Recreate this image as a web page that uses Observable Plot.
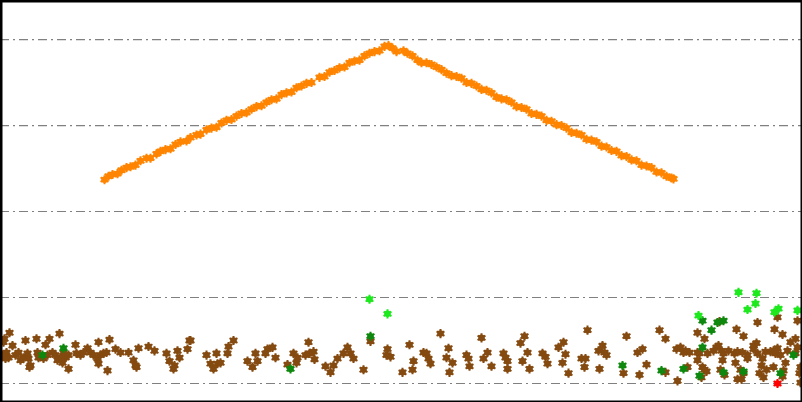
<!DOCTYPE html>
<html>
<head>
<meta charset="utf-8">
<script src="https://cdn.jsdelivr.net/npm/d3@7"></script>
<script src="https://cdn.jsdelivr.net/npm/@observablehq/plot@0.6"></script>
<style>
  html, body { margin: 0; padding: 0; background: #fff; }
  #chart svg { display: block; }
</style>
</head>
<body>
<div id="chart"></div>
<script>
const gridValues = [0, 100, 200, 300, 400];

const orangeX = [104,108,112,117,121,126,130,135,140,146,150,156,160,165,170,175,180,186,190,196,200,206,211,216,221,226,231,236,241,246,251,256,261,266,271,276,281,286,291,296,301,306,311,319,324,329,334,339,344,349,354,359,364,369,374,379,384,388,
  392,396,403,407,412,417,421,426,431,436,441,446,451,456,461,466,471,476,481,486,491,496,501,506,511,516,521,526,531,536,541,546,551,556,561,566,571,576,581,586,591,596,601,606,611,616,621,626,631,636,641,646,651,656,661,666,671,673];
const orangeY = [237,241,243,244,248,251,252,254,259,262,262,267,270,272,273,278,281,282,286,289,290,295,297,298,303,306,307,311,314,315,319,322,323,327,330,331,336,338,339,344,346,349,350,356,357,362,364,367,368,373,375,376,381,384,386,387,392,393,
  390,386,387,384,381,376,373,373,371,368,365,361,358,357,355,350,349,346,342,341,338,333,331,330,327,322,321,319,314,313,311,306,305,301,300,297,292,291,289,284,283,281,276,275,271,270,265,264,260,259,254,253,251,246,245,241,239,238];

const brownX = [9,4,3,12,25,36,49,59,45,2,6,8,5,15,18,20,23,27,28,30,29,37,38,43,47,52,55,57,60,63,65,62,68,68,75,76,80,83,87,90,93,97,98,100,103,106,98,109,107,115,120,128,133,135,136,138,148,154,166,169,174,173,177,179,187,189,
  190,206,210,213,217,216,220,227,228,233,247,252,255,257,265,267,272,275,287,293,296,297,305,308,309,313,314,325,330,333,337,343,347,350,353,363,370,387,386,390,402,409,412,413,423,426,428,430,440,446,448,449,452,466,468,469,481,483,487,491,503,505,507,507,520,522,524,527,529,542,545,547,558,563,562,565,568,581,585,584,587,599,598,602,604,606,623,626,637,642,639,646,659,665,665,
  677,676,680,683,685,689,687,697,697,699,697,702,704,706,701,704,719,707,713,716,718,721,723,722,720,724,728,734,735,736,737,742,743,747,747,740,743,737,741,757,753,756,753,757,762,765,761,759,763,766,770,773,775,773,777,774,777,782,780,785,787,790,795,797,795,797,782,800,799,800,783];
const brownY = [59,52,48,44,50,52,52,58,45,33,36,30,29,33,36,27,30,35,29,21,19,36,30,29,33,36,33,27,30,36,30,24,33,17,45,35,33,36,41,36,33,29,23,33,35,36,48,51,15,40,36,36,27,21,19,41,43,38,35,26,21,17,38,30,40,50,
  50,33,23,17,23,35,24,35,43,50,26,19,35,26,35,40,42,30,22,35,24,30,33,48,35,37,28,20,13,21,29,35,42,35,29,16,49,40,33,31,13,45,16,26,36,35,29,23,58,30,41,13,24,33,29,20,53,29,36,20,35,30,26,17,47,26,55,36,17,35,31,23,42,48,24,34,12,29,29,19,62,17,38,44,36,33,12,55,36,40,10,22,62,52,13,
  3,40,42,36,38,36,19,59,36,35,27,19,16,14,7,52,72,35,38,42,44,38,35,27,16,10,38,35,24,63,37,36,55,33,29,16,12,5,5,71,44,47,40,35,29,37,21,12,7,16,37,38,35,19,41,63,77,57,33,24,38,48,52,42,35,73,8,19,12,1,15];

const darkGreenX = [42,63,290,370,622,661,683,702,699,702,711,717,723,723,743,780,793];
const darkGreenY = [33,41,17,55,21,15,17,73,9,42,62,71,73,13,14,12,33];

const brightGreenX = [369,387,698,738,756,755,747,774,778,797];
const brightGreenY = [98,81,79,106,105,93,86,83,87,85];

const redX = [777];
const redY = [0];

const toRows = (xs, ys) => xs.map((x, i) => ({x, y: ys[i]}));

function starDots(rows, color) {
  return [
    Plot.dot(rows, {x: "x", y: "y", r: 3.3, fill: color, stroke: "none"}),
    Plot.dot(rows, {x: "x", y: "y", r: 4.3, symbol: "asterisk", stroke: color, strokeWidth: 2, fill: "none"})
  ];
}

const chart = Plot.plot({
  width: 802,
  height: 402,
  margin: 0,
  x: {domain: [0, 802], axis: null},
  y: {domain: [-22.1, 445.4], axis: null},
  marks: [
    Plot.ruleY(gridValues, {stroke: "#808080", strokeWidth: 1.2, strokeDasharray: "9,4,2,4"}),
    ...starDots(toRows(orangeX, orangeY), "#ff8400"),
    ...starDots(toRows(brownX, brownY), "#844a10"),
    ...starDots(toRows(darkGreenX, darkGreenY), "#0e880e"),
    ...starDots(toRows(brightGreenX, brightGreenY), "#1ee81e"),
    ...starDots(toRows(redX, redY), "#ff0000"),
    Plot.frame({stroke: "#000", strokeWidth: 4})
  ]
});
document.getElementById("chart").appendChild(chart);
</script>
</body>
</html>
